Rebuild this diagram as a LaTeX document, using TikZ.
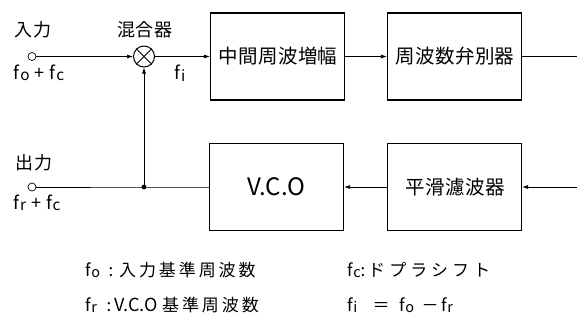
\documentclass[tikz,border=0pt]{standalone}
\usepackage{fontspec}
\setmainfont{Noto Sans CJK JP}
\usetikzlibrary{arrows.meta}
\newcommand{\fs}[1]{f\kern0.04em\raisebox{-0.15ex}{\scalebox{0.85}{#1}}}
\newcommand{\lsp}[2]{{\addfontfeature{LetterSpace=#1}#2}}
\newcommand{\fsz}[1]{\fontsize{#1}{#1}\selectfont}
\begin{document}
\begin{tikzpicture}[x=1pt,y=-1pt,
  blk/.style={draw, line width=1.1pt, minimum width=134pt, minimum height=87pt, inner sep=0pt},
  conn/.style={line width=0.7pt},
  arr/.style={conn, -{Latex[length=6pt,width=4pt]}},
  term/.style={circle, draw, line width=0.7pt, minimum size=8pt, inner sep=0pt},
  lbl/.style={inner sep=0pt},
  btext/.style={font=\fsz{19.5}},
]
\useasboundingbox (0,0) rectangle (577,327);

% top row
\node[term] (in) at (32,56.5) {};
\node[circle, draw, line width=1pt, minimum size=21pt, inner sep=0pt] (mix) at (144,56.5) {};
\draw[line width=0.8pt] (mix.north east) -- (mix.south west);
\draw[line width=0.8pt] (mix.north west) -- (mix.south east);
\node[blk, btext] (b1) at (277.5,56.5) {\hspace{1pt}\lsp{2}{中間周波増幅}};
\node[blk, btext] (b2) at (454.5,56.5) {\hspace{1pt}\lsp{2}{周波数弁別器}};
\coordinate (r1) at (577,56.5);

% bottom row
\node[term] (out) at (32,187) {};
\coordinate (jn) at (144,187);
\node[blk, font=\fsz{24}] (b3) at (276.5,187) {V.C.O};
\node[blk, btext] (b4) at (454.5,187) {\hspace{1pt}\lsp{2}{平滑濾波器}};
\coordinate (r2) at (577,187);

% connectors
\draw[arr] (in) -- (mix);
\draw[arr] (mix) -- (b1);
\draw[arr] (b1) -- (b2);
\draw[conn] (b2) -- (r1);
\draw[arr] (r2) -- (b4);
\draw[arr] (b4) -- (b3);
\draw[conn] (b3) -- (jn) -- (out);
\draw[arr] (jn) -- (mix);
\fill (jn) circle (2.4pt);

% labels
\node[lbl, font=\fsz{18}] (lin) at (33,30) {\lsp{5}{入力}};
\node[lbl, font=\fsz{18}] (fin) at (39,73) {\fs{o}\;+\;\fs{c}};
\node[lbl, font=\fsz{18}] (lmix) at (145,30) {\lsp{5}{混合器}};
\node[lbl, font=\fsz{18}] (lfi) at (180,73) {\fs{i}};
\node[lbl, font=\fsz{18}] (lout) at (34,163) {\lsp{5}{出力}};
\node[lbl, font=\fsz{18}] (fout) at (37,203) {\fs{r}\;+\;\fs{c}};

% legend
\begin{scope}[every node/.style={lbl, anchor=base west, font=\fsz{17}}]
\node (g1a) at (85,276) {\fs{o}};
\node[anchor=base] (g1b) at (111,276) {:};
\node (g1c) at (119,276) {\lsp{17}{入力基準周波数}};
\node (g2a) at (85,311) {\fs{r}};
\node[anchor=base] (g2b) at (109,311) {:};
\node[font=\fsz{18}] (g2c) at (114,311) {V.C.O};
\node (g2d) at (162,311) {\lsp{17}{基準周波数}};
\node (g3a) at (347,276) {\fs{c}};
\node[anchor=base] (g3b) at (363,276) {:};
\node (g3c) at (368,276) {\lsp{24}{ドプラシフト}};
\node (g4a) at (347,311) {\fs{i}};
\node[anchor=base] (g4b) at (381,311) {＝};
\node (g4c) at (399,311) {\fs{o}};
\node[anchor=base] (g4d) at (430,311) {－};
\node (g4e) at (441,311) {\fs{r}};
\end{scope}
\end{tikzpicture}
\end{document}
